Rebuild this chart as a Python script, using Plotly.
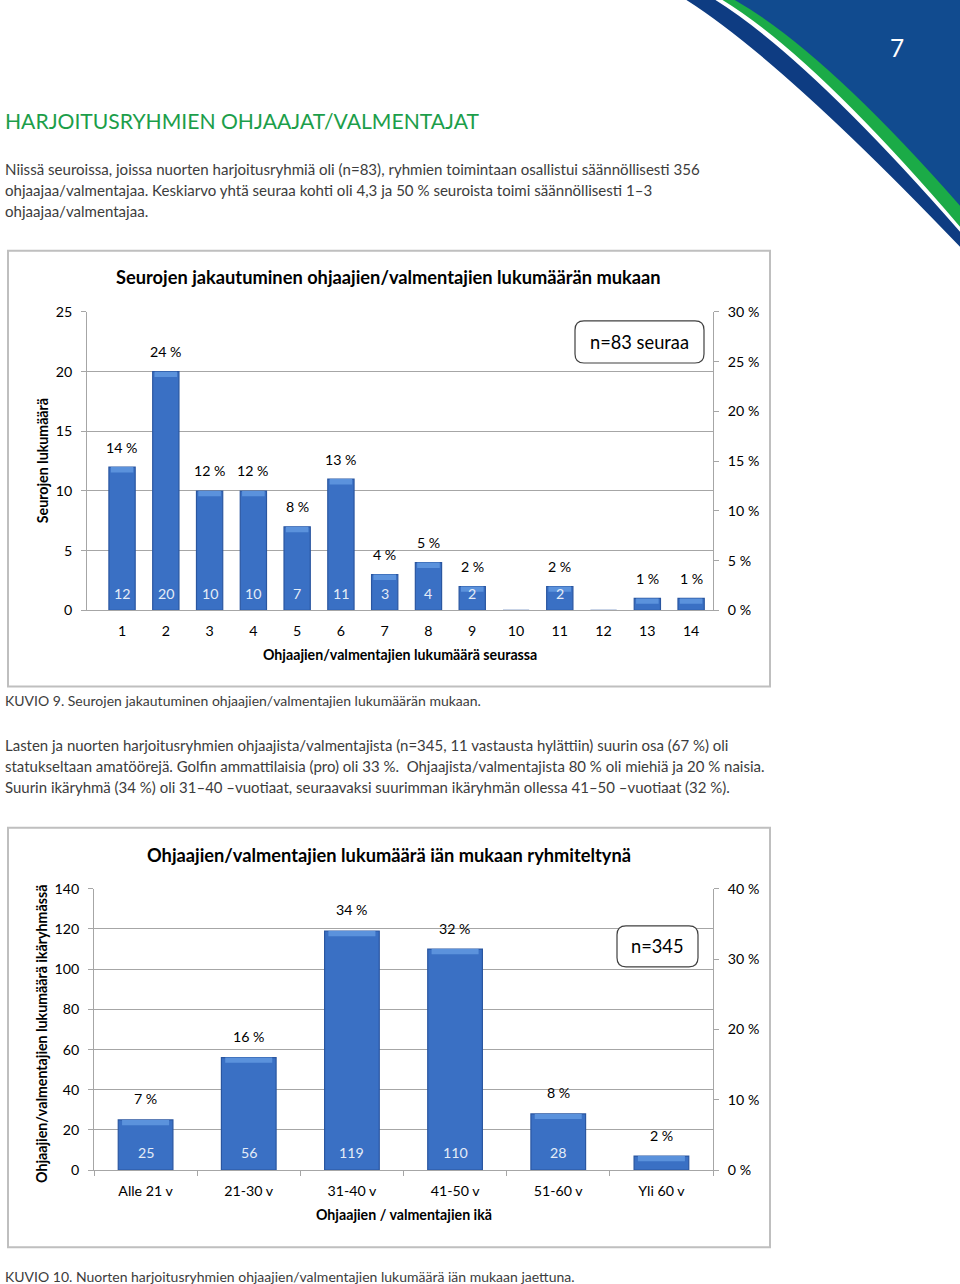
import plotly.graph_objects as go

# ---------------- data ----------------
coach_counts = ["1", "2", "3", "4", "5", "6", "7", "8", "9", "10", "11", "12", "13", "14"]
clubs = [12, 20, 10, 10, 7, 11, 3, 4, 2, 0, 2, 0, 1, 1]
n_clubs = 83

age_groups = ["Alle 21 v", "21-30 v", "31-40 v", "41-50 v", "51-60 v", "Yli 60 v"]
coaches = [25, 56, 119, 110, 28, 7]
n_coaches = 345

y1_ticks = [0, 5, 10, 15, 20, 25]
y2_ticks = [0, 5, 10, 15, 20, 25, 30]
y3_ticks = [0, 20, 40, 60, 80, 100, 120, 140]
y4_ticks = [0, 10, 20, 30, 40]

page_title = "HARJOITUSRYHMIEN OHJAAJAT/VALMENTAJAT"
para1 = [
    "Niissä seuroissa, joissa nuorten harjoitusryhmiä oli (n=83), ryhmien toimintaan osallistui säännöllisesti 356",
    "ohjaajaa/valmentajaa. Keskiarvo yhtä seuraa kohti oli 4,3 ja 50 % seuroista toimi säännöllisesti 1–3",
    "ohjaajaa/valmentajaa.",
]
caption1 = "KUVIO 9. Seurojen jakautuminen ohjaajien/valmentajien lukumäärän mukaan."
para2 = [
    "Lasten ja nuorten harjoitusryhmien ohjaajista/valmentajista (n=345, 11 vastausta hylättiin) suurin osa (67 %) oli",
    "statukseltaan amatöörejä. Golfin ammattilaisia (pro) oli 33 %.  Ohjaajista/valmentajista 80 % oli miehiä ja 20 % naisia.",
    "Suurin ikäryhmä (34 %) oli 31–40 –vuotiaat, seuraavaksi suurimman ikäryhmän ollessa 41–50 –vuotiaat (32 %).",
]
caption2 = "KUVIO 10. Nuorten harjoitusryhmien ohjaajien/valmentajien lukumäärä iän mukaan jaettuna."
chart1_title = "Seurojen jakautuminen ohjaajien/valmentajien lukumäärän mukaan"
chart1_xtitle = "Ohjaajien/valmentajien lukumäärä seurassa"
chart1_ytitle = "Seurojen lukumäärä"
chart1_note = "n=83 seuraa"
chart2_title = "Ohjaajien/valmentajien lukumäärä iän mukaan ryhmiteltynä"
chart2_xtitle = "Ohjaajien / valmentajien ikä"
chart2_ytitle = "Ohjaajien/valmentajien lukumäärä ikäryhmässä"
chart2_note = "n=345"
page_number = "7"

# ---------------- helpers ----------------
W, H = 960, 1300
IMG_OFF, IMG_SCALE = 10.5, 0.9855   # vertical mapping of page pixels to the captured picture
def px(x):
    return x / W
def py(y):
    page = (y - IMG_OFF) / IMG_SCALE
    return 1 - page / H
def fs(s):
    return round(s / IMG_SCALE, 2)

CHART_FONT = "Lato, 'Open Sans', sans-serif"
PAGE_FONT = "Lato, sans-serif"
GRID = "#a6a6a6"
BAR = "#3a70c4"
BAR_LINE = "#2a56a0"
BEVEL = "#5b92dc"
TEXT_GRAY = "#3c3c3c"

def rrect(x0, y0, x1, y1, r):
    X = lambda v: f"{px(v):.5f}"
    Y = lambda v: f"{py(v):.5f}"
    return (f"M {X(x0+r)},{Y(y0)} L {X(x1-r)},{Y(y0)} Q {X(x1)},{Y(y0)} {X(x1)},{Y(y0+r)} "
            f"L {X(x1)},{Y(y1-r)} Q {X(x1)},{Y(y1)} {X(x1-r)},{Y(y1)} "
            f"L {X(x0+r)},{Y(y1)} Q {X(x0)},{Y(y1)} {X(x0)},{Y(y1-r)} "
            f"L {X(x0)},{Y(y0+r)} Q {X(x0)},{Y(y0)} {X(x0+r)},{Y(y0)} Z")

def swoosh(x0, cx, cy, yend):
    return (f"M {px(x0):.5f},{py(0):.5f} Q {px(cx):.5f},{py(cy):.5f} {px(961):.5f},{py(yend):.5f} "
            f"L {px(961):.5f},{py(0):.5f} Z")

def page_text(x, y, text, size, color, family=PAGE_FONT, xanchor="left", angle=0):
    return dict(x=px(x), y=py(y), xref="paper", yref="paper", xanchor=xanchor, yanchor="middle",
                text=text, showarrow=False, textangle=angle,
                font=dict(family=family, size=fs(size), color=color))

fig = go.Figure()

def add_bars(cats, vals, xa, ya, width, bevel_units):
    fig.add_trace(go.Bar(
        x=cats, y=vals, xaxis=xa, yaxis=ya,
        marker=dict(color=BAR, line=dict(color=BAR_LINE, width=1.2)),
        width=width, hoverinfo="x+y", showlegend=False,
    ))
    # lighter bevel on top of each bar (drawn from the same values)
    fig.add_trace(go.Bar(
        x=cats, y=[bevel_units if v > 0 else 0 for v in vals],
        base=[v - bevel_units if v > 0 else 0 for v in vals], xaxis=xa, yaxis=ya,
        marker=dict(color=BEVEL, line=dict(width=0)),
        width=width * 0.86, hoverinfo="skip", showlegend=False,
    ))

add_bars(coach_counts, clubs, "x", "y", 0.6, 0.45)
add_bars(age_groups, coaches, "x3", "y3", 0.53, 2.6)

# invisible traces to activate secondary axes
fig.add_trace(go.Scatter(x=[coach_counts[0]], y=[0], xaxis="x", yaxis="y2",
                         mode="markers", marker=dict(opacity=0), showlegend=False, hoverinfo="skip"))
fig.add_trace(go.Scatter(x=[age_groups[0]], y=[0], xaxis="x3", yaxis="y4",
                         mode="markers", marker=dict(opacity=0), showlegend=False, hoverinfo="skip"))

annotations = []
tick_font = dict(family=CHART_FONT, size=fs(14), color="#000000")

# data labels chart 1 (category index positions)
for i, v in enumerate(clubs):
    if v <= 0:
        continue
    pct = round(v / n_clubs * 100)
    annotations.append(dict(x=i, y=v, xref="x", yref="y", text=f"{pct} %", showarrow=False,
                            yanchor="middle", yshift=20,
                            font=dict(family=CHART_FONT, size=fs(14), color="#000000")))
    if v / y1_ticks[-1] >= 0.06:
        annotations.append(dict(x=i, y=0, xref="x", yref="y", text=str(v), showarrow=False,
                                yanchor="middle", yshift=17,
                                font=dict(family=CHART_FONT, size=fs(14), color="#e4ecf7")))
# data labels chart 2
for i, v in enumerate(coaches):
    pct = round(v / n_coaches * 100)
    annotations.append(dict(x=i, y=v, xref="x3", yref="y3", text=f"{pct} %", showarrow=False,
                            yanchor="middle", yshift=21,
                            font=dict(family=CHART_FONT, size=fs(14), color="#000000")))
    if v / y3_ticks[-1] >= 0.06:
        annotations.append(dict(x=i, y=0, xref="x3", yref="y3", text=str(v), showarrow=False,
                                yanchor="middle", yshift=18,
                                font=dict(family=CHART_FONT, size=fs(14), color="#e4ecf7")))

# chart titles / axis titles
annotations += [
    page_text(388, 278, f"<b>{chart1_title}</b>", 18, "#000000", CHART_FONT, "center"),
    page_text(400, 655, f"<b>{chart1_xtitle}</b>", 14, "#000000", CHART_FONT, "center"),
    page_text(42, 462, f"<b>{chart1_ytitle}</b>", 14, "#000000", CHART_FONT, "center", -90),
    page_text(639, 343, chart1_note, 18, "#000000", CHART_FONT, "center"),
    page_text(389, 855, f"<b>{chart2_title}</b>", 18, "#000000", CHART_FONT, "center"),
    page_text(404, 1214, f"<b>{chart2_xtitle}</b>", 14, "#000000", CHART_FONT, "center"),
    page_text(42, 1034, f"<b>{chart2_ytitle}</b>", 14, "#000000", CHART_FONT, "center", -90),
    page_text(657, 946, chart2_note, 18, "#000000", CHART_FONT, "center"),
]

# page text
annotations.append(page_text(3, 122, page_title, 20.8, "#1c9e4a"))
for i, line in enumerate(para1):
    annotations.append(page_text(3, 170 + 21 * i, line, 14.85, TEXT_GRAY))
annotations.append(page_text(3, 701, caption1, 13.8, TEXT_GRAY))
for i, line in enumerate(para2):
    annotations.append(page_text(3, 745 + 21 * i, line, 14.75, TEXT_GRAY))
annotations.append(page_text(3, 1276, caption2, 13.8, TEXT_GRAY))
annotations.append(page_text(897, 49, page_number, 24, "#ffffff", "Lato, sans-serif", "center"))

shapes = [
    # swoosh decoration
    dict(type="path", xref="paper", yref="paper", path=swoosh(684, 780, 60, 249),
         fillcolor="#0e3c82", line=dict(width=0), layer="below"),
    dict(type="path", xref="paper", yref="paper", path=swoosh(713, 806, 57, 234),
         fillcolor="#ffffff", line=dict(width=0), layer="below"),
    dict(type="path", xref="paper", yref="paper", path=swoosh(720, 812, 55, 229),
         fillcolor="#1bab47", line=dict(width=0), layer="below"),
    dict(type="path", xref="paper", yref="paper", path=swoosh(732, 822, 50, 208),
         fillcolor="#114b8f", line=dict(width=0), layer="below"),
    # chart frames
    dict(type="rect", xref="paper", yref="paper", x0=px(8), x1=px(770), y0=py(687), y1=py(252),
         line=dict(color="#bfbfbf", width=2), fillcolor="rgba(0,0,0,0)"),
    dict(type="rect", xref="paper", yref="paper", x0=px(8), x1=px(770), y0=py(1247), y1=py(828),
         line=dict(color="#bfbfbf", width=2), fillcolor="rgba(0,0,0,0)"),
    # note boxes
    dict(type="path", xref="paper", yref="paper", path=rrect(575, 322, 704, 364, 9),
         line=dict(color="#404040", width=1.2), fillcolor="#ffffff"),
    dict(type="path", xref="paper", yref="paper", path=rrect(617, 926, 698, 967, 9),
         line=dict(color="#404040", width=1.2), fillcolor="#ffffff"),
]

common_y = dict(showline=True, linecolor=GRID, linewidth=1, ticks="outside", ticklen=5, tickcolor=GRID,
                tickfont=tick_font, zeroline=False, fixedrange=True)

fig.update_layout(
    width=W, height=H,
    margin=dict(l=0, r=0, t=0, b=0),
    paper_bgcolor="#ffffff", plot_bgcolor="rgba(0,0,0,0)",
    showlegend=False, barmode="overlay",
    xaxis=dict(domain=[px(87), px(713)], type="category", showline=True, linecolor=GRID, ticks="",
               tickfont=tick_font, showgrid=False, anchor="y", ticklabelstandoff=8, fixedrange=True),
    yaxis=dict(domain=[py(611), py(313)], range=[0, 25], tickvals=y1_ticks, showgrid=True, gridcolor=GRID,
               anchor="x", ticklabelstandoff=6, **common_y),
    yaxis2=dict(overlaying="y", side="right", anchor="x", range=[0, 30], tickvals=y2_ticks,
                ticktext=[f"{t} %" for t in y2_ticks], showgrid=False, ticklabelstandoff=6, **common_y),
    xaxis3=dict(domain=[px(94), px(713)], type="category", showline=True, linecolor=GRID, ticks="outside",
                ticklen=5, tickcolor=GRID, tickson="boundaries", tickfont=tick_font, showgrid=False,
                anchor="y3", ticklabelstandoff=8, fixedrange=True),
    yaxis3=dict(domain=[py(1170), py(889)], range=[0, 140], tickvals=y3_ticks, showgrid=True, gridcolor=GRID,
                anchor="x3", ticklabelstandoff=6, **common_y),
    yaxis4=dict(overlaying="y3", side="right", anchor="x3", range=[0, 40], tickvals=y4_ticks,
                ticktext=[f"{t} %" for t in y4_ticks], showgrid=False, ticklabelstandoff=6, **common_y),
    annotations=annotations,
    shapes=shapes,
)

fig.write_html("out.html", config={"displayModeBar": False},
               post_script="document.body.style.margin='0';document.body.style.overflow='hidden';"
                           "document.documentElement.style.overflow='hidden';")
